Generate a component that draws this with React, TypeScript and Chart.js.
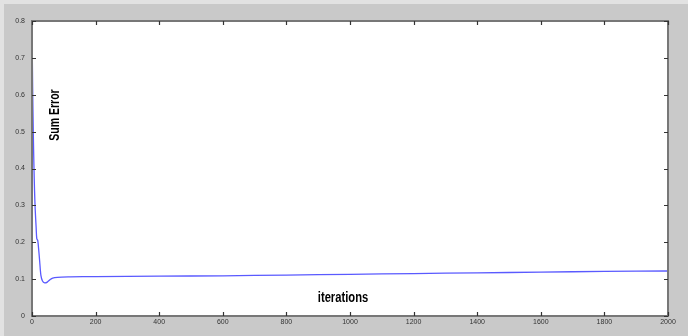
import React, { useEffect, useRef } from "react";
import { Chart, registerables } from "chart.js";

Chart.register(...registerables);

const iterations = [0, 2, 4, 6, 8, 10, 13, 15, 18, 20, 24, 28, 33, 40, 48, 56, 65, 80, 120, 200, 400, 600, 800, 1000, 1200, 1400, 1600, 1800, 2000];
const sumError = [0.79, 0.62, 0.5, 0.41, 0.34, 0.29, 0.24, 0.21, 0.205, 0.19, 0.15, 0.11, 0.095, 0.09, 0.092, 0.098, 0.103, 0.105, 0.106, 0.107, 0.108, 0.109, 0.111, 0.113, 0.115, 0.117, 0.119, 0.121, 0.122];

const xTicks = [0, 200, 400, 600, 800, 1000, 1200, 1400, 1600, 1800, 2000];
const yTicks = [0, 0.1, 0.2, 0.3, 0.4, 0.5, 0.6, 0.7, 0.8];

const yTitle = "Sum Error";
const xTitle = "iterations";
const yTitlePos = { x: 72, y: 0.545 };
const xTitlePos = { x: 978, y: 0.049 };

const framePlugin = {
  id: "frame",
  beforeDraw(chart: any) {
    const { ctx, width, height, chartArea } = chart;
    ctx.save();
    ctx.fillStyle = "#c9c9c9";
    ctx.fillRect(0, 0, width, height);
    ctx.fillStyle = "#e2e2e2";
    ctx.fillRect(0, 0, width, 4);
    ctx.fillRect(0, 0, 4, height);
    ctx.fillStyle = "#ffffff";
    ctx.fillRect(chartArea.left, chartArea.top, chartArea.right - chartArea.left, chartArea.bottom - chartArea.top);
    ctx.restore();
  },
  afterDraw(chart: any) {
    const { ctx, chartArea } = chart;
    const xs = chart.scales.x;
    const ys = chart.scales.y;
    ctx.save();
    ctx.strokeStyle = "#777777";
    ctx.lineWidth = 2;
    ctx.strokeRect(chartArea.left, chartArea.top, chartArea.right - chartArea.left, chartArea.bottom - chartArea.top);
    ctx.strokeStyle = "#333333";
    ctx.lineWidth = 1.2;
    const tl = 4;
    ctx.beginPath();
    xTicks.forEach((v) => {
      const px = Math.round(xs.getPixelForValue(v)) + 0.5;
      ctx.moveTo(px, chartArea.bottom);
      ctx.lineTo(px, chartArea.bottom - tl);
      ctx.moveTo(px, chartArea.top);
      ctx.lineTo(px, chartArea.top + tl);
    });
    yTicks.forEach((v) => {
      const py = Math.round(ys.getPixelForValue(v)) + 0.5;
      ctx.moveTo(chartArea.left, py);
      ctx.lineTo(chartArea.left + tl, py);
      ctx.moveTo(chartArea.right, py);
      ctx.lineTo(chartArea.right - tl, py);
    });
    ctx.stroke();

    ctx.fillStyle = "#000000";
    ctx.font = 'bold 14px "Liberation Sans", sans-serif';
    ctx.textAlign = "center";
    ctx.textBaseline = "middle";
    ctx.save();
    ctx.translate(xs.getPixelForValue(xTitlePos.x), ys.getPixelForValue(xTitlePos.y));
    ctx.scale(0.8, 1);
    ctx.fillText(xTitle, 0, 0);
    ctx.restore();
    ctx.translate(xs.getPixelForValue(yTitlePos.x), ys.getPixelForValue(yTitlePos.y));
    ctx.rotate(-Math.PI / 2);
    ctx.scale(0.75, 1);
    ctx.fillText(yTitle, 0, 0);
    ctx.restore();
  },
};

export default function App() {
  const ref = useRef<HTMLCanvasElement>(null);
  useEffect(() => {
    document.body.style.margin = "0";
    const chart = new Chart(ref.current!, {
      type: "scatter",
      data: {
        datasets: [
          {
            data: iterations.map((x, i) => ({ x, y: sumError[i] })),
            showLine: true,
            borderColor: "#5a5aff",
            borderWidth: 1.3,
            pointRadius: 0,
            tension: 0.3,
            fill: false,
          },
        ],
      },
      options: {
        responsive: false,
        animation: false,
        layout: { padding: { top: 21, right: 20, left: 0, bottom: 0 } },
        plugins: { legend: { display: false }, tooltip: { enabled: false } },
        scales: {
          x: {
            type: "linear",
            min: 0,
            max: 2000,
            afterBuildTicks: (s: any) => {
              s.ticks = xTicks.map((v) => ({ value: v }));
            },
            afterFit: (s: any) => {
              s.height = 20;
            },
            grid: { display: false, drawTicks: false },
            border: { display: false },
            ticks: {
              padding: 2,
              color: "#333333",
              font: { size: 7, family: '"Liberation Sans", sans-serif' },
              maxRotation: 0,
              callback: (v: any) => String(v),
            },
          },
          y: {
            type: "linear",
            min: 0,
            max: 0.8,
            afterBuildTicks: (s: any) => {
              s.ticks = yTicks.map((v) => ({ value: v }));
            },
            afterFit: (s: any) => {
              s.width = 32;
            },
            grid: { display: false, drawTicks: false },
            border: { display: false },
            ticks: {
              padding: 7,
              color: "#333333",
              font: { size: 7, family: '"Liberation Sans", sans-serif' },
              callback: (v: any) => (v === 0 ? "0" : Number(v).toFixed(1)),
            },
          },
        },
      },
      plugins: [framePlugin],
    });
    return () => chart.destroy();
  }, []);
  return <canvas ref={ref} width={688} height={336} style={{ display: "block" }} />;
}
